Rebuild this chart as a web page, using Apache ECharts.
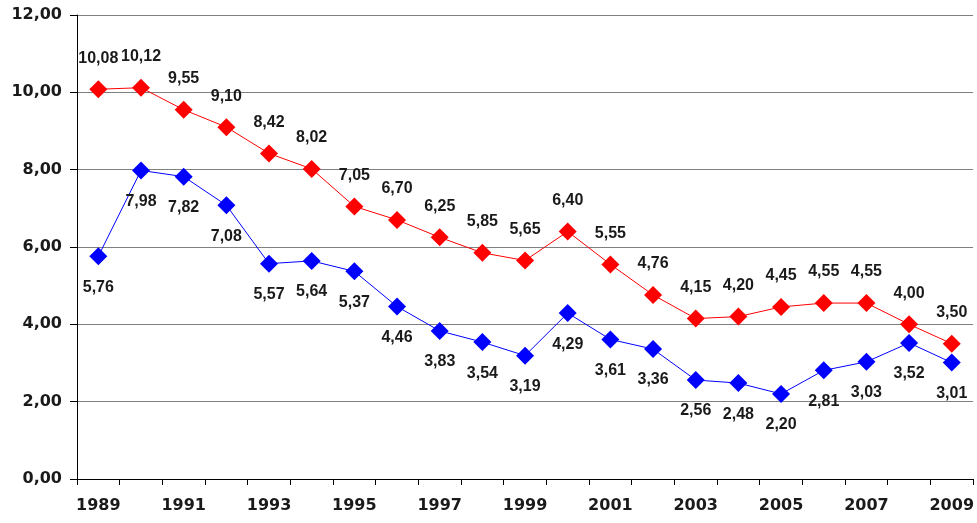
<!DOCTYPE html>
<html>
<head>
<meta charset="utf-8">
<script src="https://cdn.jsdelivr.net/npm/echarts@6/dist/echarts.min.js"></script>
<style>html,body{margin:0;padding:0;background:#fff}#c{width:977px;height:523px}</style>
</head>
<body>
<div id="c"></div>
<script>
const years = ['1989','1990','1991','1992','1993','1994','1995','1996','1997','1998','1999','2000','2001','2002','2003','2004','2005','2006','2007','2008','2009'];
const redValues = [10.08,10.12,9.55,9.10,8.42,8.02,7.05,6.70,6.25,5.85,5.65,6.40,5.55,4.76,4.15,4.20,4.45,4.55,4.55,4.00,3.50];
const blueValues = [5.76,7.98,7.82,7.08,5.57,5.64,5.37,4.46,3.83,3.54,3.19,4.29,3.61,3.36,2.56,2.48,2.20,2.81,3.03,3.52,3.01];
const yTicks = [0,2,4,6,8,10,12];

const fmt = v => Number(v).toFixed(2).replace('.', ',');
const chart = echarts.init(document.getElementById('c'), null, {renderer:'canvas'});
const lbl = {fontFamily:'Liberation Sans', fontWeight:'bold', fontSize:16, color:'#1a1a1a'};
chart.setOption({
  animation:false,
  grid:{left:77, right:3, top:15, bottom:44, containLabel:false},
  xAxis:{
    type:'category', data:years, boundaryGap:true,
    axisLine:{lineStyle:{color:'#000', width:1}},
    axisTick:{show:true, interval:0, length:6, inside:false, lineStyle:{color:'#000'}},
    axisLabel:{interval:1, margin:19, fontFamily:'DejaVu Sans', fontWeight:'bold', fontSize:16, color:'#1a1a1a'}
  },
  yAxis:{
    type:'value', min:yTicks[0], max:yTicks[yTicks.length-1], interval:2,
    axisLine:{show:true, lineStyle:{color:'#000', width:1}},
    axisTick:{show:true, length:7, lineStyle:{color:'#000'}},
    splitLine:{show:true, lineStyle:{color:'#808080', width:1}},
    axisLabel:{margin:15, formatter:fmt, fontFamily:'DejaVu Sans', fontWeight:'bold', fontSize:16, color:'#1a1a1a'}
  },
  series:[
    {type:'line', data:redValues, symbol:'diamond', symbolSize:18, itemStyle:{color:'#ff0000'},
     lineStyle:{color:'#ff0000', width:1},
     label:Object.assign({show:true, position:'top', distance:14, formatter:p=>fmt(p.value)}, lbl)},
    {type:'line', data:blueValues, symbol:'diamond', symbolSize:18, itemStyle:{color:'#0000ff'},
     lineStyle:{color:'#0000ff', width:1},
     label:Object.assign({show:true, position:'bottom', distance:14, formatter:p=>fmt(p.value)}, lbl)}
  ]
});
</script>
</body>
</html>
